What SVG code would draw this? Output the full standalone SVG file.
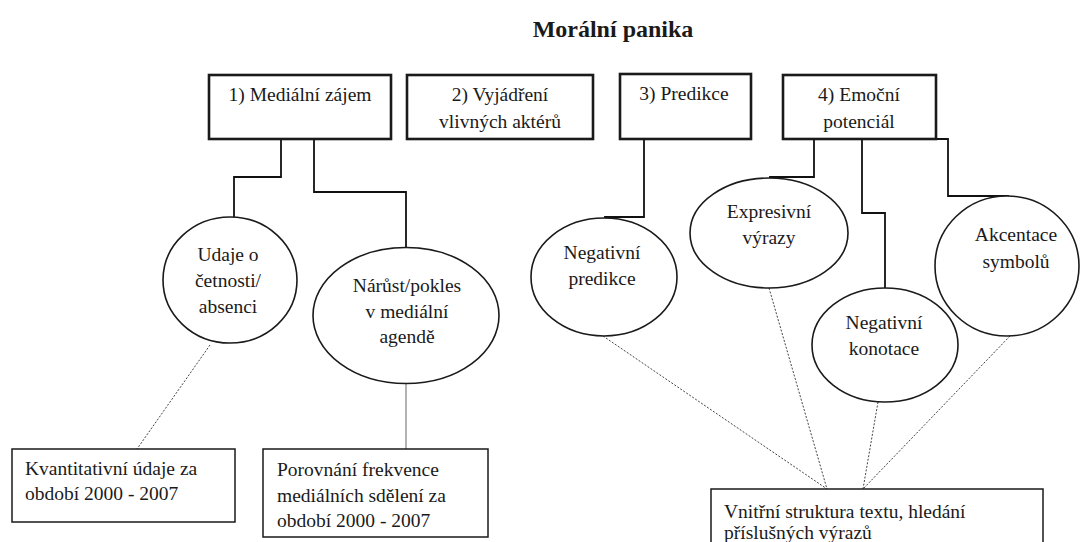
<svg xmlns="http://www.w3.org/2000/svg" width="1089" height="542" viewBox="0 0 1089 542">
<style>
text{font-family:"Liberation Serif","Tinos","Times New Roman","DejaVu Serif",serif;fill:#1a1a1a;font-size:19.5px}
.title{font-weight:bold;font-size:24px}
.c{text-anchor:middle}
.top{fill:#fff;stroke:#1a1a1a;stroke-width:2.6}
.bot{fill:#fff;stroke:#1a1a1a;stroke-width:1.5}
.ell{fill:#fff;stroke:#1a1a1a;stroke-width:1.6}
.solid{fill:none;stroke:#111;stroke-width:1.8}
.thin{fill:none;stroke:#666;stroke-width:1}
.dot{fill:none;stroke:#444;stroke-width:1;stroke-dasharray:2 1.6}
</style>
<rect width="1089" height="542" fill="#fff"/>
<text class="title c" x="613" y="37" font-family="Liberation Serif, serif">Morální panika</text>
<g id="connectors">
<polyline class="solid" points="281,139 281,177 234,177 234,217"/>
<polyline class="solid" points="314,139 314,192 406,192 406,248"/>
<polyline class="solid" points="644,139 644,217 605,217 605,219"/>
<polyline class="solid" points="814,139 814,177 770,177 770,179"/>
<polyline class="solid" points="862,139 862,213 885,213 885,288"/>
<polyline class="solid" points="936,139 948,139 948,196 1008,196 1008,197"/>
<line class="thin" x1="406" y1="383" x2="406" y2="449"/>
<line class="dot" x1="210" y1="345" x2="137" y2="449"/>
<line class="dot" x1="603" y1="336" x2="827" y2="489"/>
<line class="dot" x1="769" y1="288" x2="827" y2="489"/>
<line class="dot" x1="878" y1="402" x2="863" y2="489"/>
<line class="dot" x1="1010" y1="336" x2="863" y2="489"/>
</g>
<g id="n1"><rect class="top" x="209" y="75" width="182" height="64"/><text class="c" x="300" y="101">1) Mediální zájem</text></g>
<g id="n2"><rect class="top" x="407" y="75" width="186" height="64"/><text class="c" x="500" y="101">2) Vyjádření</text><text class="c" x="500" y="128">vlivných aktérů</text></g>
<g id="n3"><rect class="top" x="620" y="74" width="131" height="65"/><text class="c" x="684" y="100">3) Predikce</text></g>
<g id="n4"><rect class="top" x="783" y="75" width="153" height="64"/><text class="c" x="859" y="101">4) Emoční</text><text class="c" x="859" y="128">potenciál</text></g>
<g id="e1"><ellipse class="ell" cx="230" cy="280" rx="67" ry="63"/><text class="c" x="228" y="261">Udaje o</text><text class="c" x="228" y="287">četnosti/</text><text class="c" x="228" y="313">absenci</text></g>
<g id="e2"><ellipse class="ell" cx="406" cy="315.5" rx="93" ry="68"/><text class="c" x="407" y="292">Nárůst/pokles</text><text class="c" x="407" y="318">v mediální</text><text class="c" x="407" y="343">agendě</text></g>
<g id="e3"><ellipse class="ell" cx="604" cy="277" rx="73" ry="59"/><text class="c" x="602" y="259">Negativní</text><text class="c" x="602" y="285">predikce</text></g>
<g id="e4"><ellipse class="ell" cx="769" cy="233" rx="79" ry="55"/><text class="c" x="769" y="218">Expresivní</text><text class="c" x="769" y="244">výrazy</text></g>
<g id="e5"><ellipse class="ell" cx="885" cy="345" rx="73" ry="57"/><text class="c" x="884" y="329">Negativní</text><text class="c" x="884" y="355">konotace</text></g>
<g id="e6"><ellipse class="ell" cx="1007" cy="266" rx="72" ry="70"/><text class="c" x="1016" y="241">Akcentace</text><text class="c" x="1016" y="268">symbolů</text></g>
<g id="b1"><rect class="bot" x="12" y="449" width="223" height="73"/><text x="25" y="475">Kvantitativní údaje za</text><text x="25" y="500">období 2000 - 2007</text></g>
<g id="b2"><rect class="bot" x="263" y="449" width="225" height="88"/><text x="277" y="476">Porovnání frekvence</text><text x="277" y="502">mediálních sdělení za</text><text x="277" y="527">období 2000 - 2007</text></g>
<g id="b3"><rect class="bot" x="711" y="489" width="332" height="60"/><text x="724" y="518">Vnitřní struktura textu, hledání</text><text x="724" y="539">příslušných výrazů</text></g>
</svg>
